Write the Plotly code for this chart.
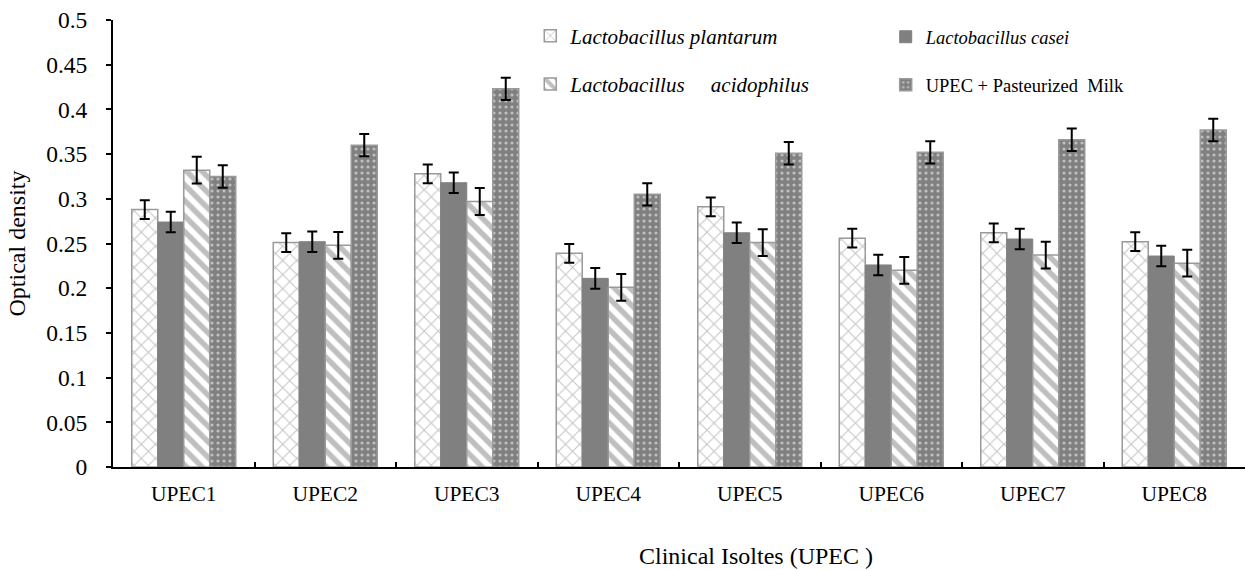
import plotly.graph_objects as go

categories = ["UPEC1", "UPEC2", "UPEC3", "UPEC4", "UPEC5", "UPEC6", "UPEC7", "UPEC8"]
plantarum = [0.288, 0.251, 0.328, 0.239, 0.291, 0.256, 0.262, 0.252]
casei = [0.274, 0.252, 0.318, 0.211, 0.262, 0.226, 0.255, 0.236]
acidophilus = [0.332, 0.248, 0.297, 0.201, 0.251, 0.220, 0.237, 0.228]
milk = [0.325, 0.360, 0.423, 0.305, 0.351, 0.352, 0.366, 0.377]
err_plantarum = [0.0105] * 8
err_casei = [0.0115] * 8
err_acidophilus = [0.015] * 8
err_milk = [0.0125] * 8

series_names = [
    "<i>Lactobacillus plantarum</i>",
    "<i>Lactobacillus casei</i>",
    "<i>Lactobacillus</i>\u00a0\u00a0\u00a0\u00a0\u00a0<i>acidophilus</i>",
    "UPEC + Pasteurized\u00a0 Milk",
]
x_title = "Clinical Isoltes (UPEC )"
y_title = "Optical density"

FONT = "Liberation Serif"
GRAY = "#808080"
EDGE = "#9a9a9a"

def err(vals):
    return dict(type="data", array=vals, visible=True, color="black", thickness=2, width=5)

fig = go.Figure()
fig.add_trace(go.Bar(
    x=categories, y=plantarum, name=series_names[0], error_y=err(err_plantarum),
    marker=dict(color="white", line=dict(color=EDGE, width=1.5),
                pattern=dict(shape="x", fgcolor="#8a8a8a", bgcolor="white", size=10, solidity=0.2)),
    legend="legend", legendgroup="a",
))
fig.add_trace(go.Bar(
    x=categories, y=casei, name=series_names[1], error_y=err(err_casei),
    marker=dict(color=GRAY, line=dict(color=GRAY, width=1)),
    legend="legend2", legendgroup="b",
))
fig.add_trace(go.Bar(
    x=categories, y=acidophilus, name=series_names[2], error_y=err(err_acidophilus),
    marker=dict(color="white", line=dict(color=EDGE, width=1.5),
                pattern=dict(shape="\\", fgcolor=GRAY, bgcolor="white", size=11, solidity=0.5)),
    legend="legend", legendgroup="c",
))
fig.add_trace(go.Bar(
    x=categories, y=milk, name=series_names[3], error_y=err(err_milk),
    marker=dict(color=GRAY, line=dict(color=EDGE, width=1.5),
                pattern=dict(shape=".", fgcolor="white", bgcolor=GRAY, size=6, solidity=0.22)),
    legend="legend2", legendgroup="d",
))

fig.add_annotation(
    text=x_title, xref="paper", yref="paper", x=0.568, y=-0.199,
    xanchor="center", yanchor="middle", showarrow=False,
    font=dict(family=FONT, size=24, color="black"),
)

fig.update_layout(
    width=1246, height=570,
    margin=dict(l=113, r=1, t=20, b=103),
    paper_bgcolor="white", plot_bgcolor="white",
    font=dict(family=FONT, color="black"),
    barmode="group", bargap=0.265, bargroupgap=0,
    showlegend=True,
    legend=dict(x=0.3686, y=1.01, xanchor="left", yanchor="top", orientation="v",
                font=dict(family=FONT, size=21), tracegroupgap=18,
                bgcolor="rgba(0,0,0,0)", itemwidth=30),
    legend2=dict(x=0.6826, y=1.004, xanchor="left", yanchor="top", orientation="v",
                 font=dict(family=FONT, size=18.5), tracegroupgap=21,
                 bgcolor="rgba(0,0,0,0)", itemwidth=30),
    xaxis=dict(
        showline=True, linecolor="black", linewidth=2,
        ticks="inside", ticklen=5, tickwidth=1.5, tickcolor="black",
        tickson="boundaries", tickfont=dict(size=21.5),
        ticklabelstandoff=6,
        showgrid=False, zeroline=False,
    ),
    yaxis=dict(
        range=[0, 0.5], dtick=0.05, tick0=0,
        showline=True, linecolor="black", linewidth=2,
        ticks="outside", ticklen=5, tickwidth=1.5, tickcolor="black",
        tickfont=dict(size=23.5), ticklabelstandoff=14,
        title=dict(text=y_title, font=dict(size=24), standoff=14),
        showgrid=False, zeroline=False,
    ),
)

fig.write_html("out.html")
